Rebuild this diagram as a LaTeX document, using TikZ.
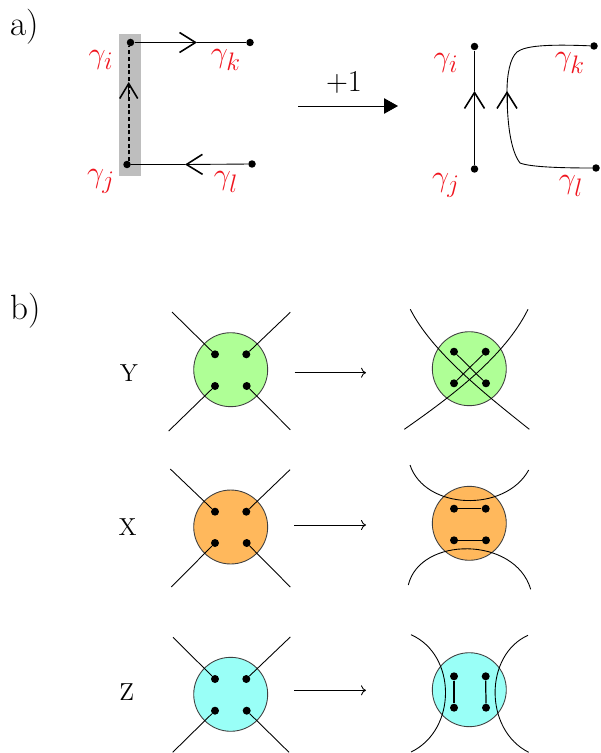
\documentclass[tikz,border=0pt]{standalone}
\usepackage{xcolor}
\definecolor{ptred}{RGB}{240,20,30}
\definecolor{ptgray}{RGB}{190,190,190}
\definecolor{ptgreen}{RGB}{175,255,150}
\definecolor{ptorange}{RGB}{255,184,92}
\definecolor{ptcyan}{RGB}{153,255,247}
\usetikzlibrary{arrows.meta}

\begin{document}
\begin{tikzpicture}[
    x=0.02cm, y=-0.02cm,
    dot/.style={circle, fill=black, inner sep=0pt, minimum size=0.15cm},
    dotb/.style={circle, fill=black, inner sep=0pt, minimum size=0.16cm},
    lab/.style={text=ptred, inner sep=0pt, font=\fontsize{19}{22}\selectfont},
    txt/.style={text=black, inner sep=0pt, font=\fontsize{20}{24}\selectfont},
    plus/.style={text=black, inner sep=0pt, font=\fontsize{17}{20}\selectfont},
    let/.style={text=black, inner sep=0pt, font=\fontsize{14}{17}\selectfont},
    blob/.style={circle, draw=black!75, line width=0.5pt, inner sep=0pt, minimum size=1.48cm},
    lin/.style={line width=0.5pt},
    chev/.style={line width=0.5pt, -{Straight Barb[length=0.32cm, width=0.4cm, line width=0.9pt]}},
    chevb/.style={line width=0.5pt, -{Straight Barb[length=0.3cm, width=0.36cm, line width=0.9pt]}},
    go/.style={line width=0.5pt, -{To[length=0.1cm, width=0.2cm]}}
  ]
    \useasboundingbox (0,0) rectangle (600,753);

    % Part a, left graph
    \node[txt] (parta) at (25,26.5) {a)};
    \node[rectangle, fill=ptgray, inner sep=0pt, minimum width=0.45cm, minimum height=2.84cm] (strip) at (129.75,105) {};
    \node[dot] (gi) at (130.5,42.5) {};
    \node[dot] (gk) at (250,42.5) {};
    \node[dot] (gj) at (127,164.5) {};
    \node[dot] (gl) at (252,164) {};
    \coordinate (cik) at (197,42.5);
    \coordinate (cjl) at (185,164.5);
    \coordinate (cji) at (128.7,82);
    \coordinate (dtop) at (128.7,46);
    \coordinate (dbot) at (128.7,161);
    \coordinate (cjs) at (128.7,100);
    \draw[chev] (gi) -- (cik);
    \draw[lin] (cik) -- (gk);
    \draw[chev] (gl) -- (cjl);
    \draw[lin] (cjl) -- (gj);
    \draw[line width=1.1pt, dash pattern=on 2.2pt off 1.6pt] (dbot) -- (dtop);
    \draw[chevb] (cjs) -- (cji);
    \node[lab] (li) at (101,60) {$\gamma_i$};
    \node[lab] (lk) at (226,60) {$\gamma_k$};
    \node[lab] (lj) at (101,181) {$\gamma_j$};
    \node[lab] (ll) at (226,182) {$\gamma_l$};

    % Part a, arrow
    \coordinate (pa) at (298,106);
    \coordinate (pb) at (398,106);
    \draw[line width=0.5pt, -{Triangle[length=0.28cm, width=0.31cm]}] (pa) -- (pb);
    \node[plus] (one) at (344,83) {$+1$};

    % Part a, right graph
    \node[dot] (hi) at (474.5,46.5) {};
    \node[dot] (hj) at (474.5,169) {};
    \node[dot] (hk) at (594,46) {};
    \node[dot] (hl) at (596,168) {};
    \coordinate (ci) at (474.5,91);
    \coordinate (ck) at (507,91);
    \coordinate (cs) at (507,107);
    \draw[chev] (hj) -- (ci);
    \draw[lin] (ci) -- (hi);
    \draw[lin] (hk) .. controls (545,44) and (525,46) .. (517,52) .. controls (510,58) and (507,75) .. (ck);
    \draw[lin] (ck) .. controls (507,120) and (510,150) .. (520,163) .. controls (530,167) and (560,168) .. (hl);
    \draw[chev] (cs) -- (ck);
    \node[lab] (mi) at (446,63) {$\gamma_i$};
    \node[lab] (mk) at (570,63) {$\gamma_k$};
    \node[lab] (mj) at (446,185) {$\gamma_j$};
    \node[lab] (ml) at (571,186) {$\gamma_l$};

    % Part b, row Y
    \node[txt] (partb) at (26,311) {b)};
    \node[let] (ly) at (129,372.7) {Y};
    \node[blob, fill=ptgreen] (ya) at (230.7,369.7) {};
    \node[dotb] (ya1) at (215,354.3) {};
    \node[dotb] (ya2) at (246.3,354.3) {};
    \node[dotb] (ya3) at (215,386) {};
    \node[dotb] (ya4) at (246.7,386) {};
    \coordinate (ye1) at (172,312);
    \coordinate (ye2) at (290.3,312.3);
    \coordinate (ye3) at (168.7,431);
    \coordinate (ye4) at (290.3,429.7);
    \draw[lin] (ya1) -- (ye1);
    \draw[lin] (ya2) -- (ye2);
    \draw[lin] (ya3) -- (ye3);
    \draw[lin] (ya4) -- (ye4);
    \coordinate (yp) at (294.7,372.7);
    \coordinate (yq) at (366,372.7);
    \draw[go] (yp) -- (yq);
    \node[blob, fill=ptgreen] (yb) at (469.3,368.7) {};
    \node[dotb] (yb1) at (454,351.7) {};
    \node[dotb] (yb2) at (485.7,351.7) {};
    \node[dotb] (yb3) at (454,383.3) {};
    \node[dotb] (yb4) at (486,383.3) {};
    \draw[lin] (yb1) -- (yb4);
    \draw[lin] (yb2) -- (yb3);
    \coordinate (yf1) at (410.3,309.3);
    \coordinate (yf2) at (528,309.3);
    \coordinate (yf3) at (404.3,429.3);
    \coordinate (yf4) at (529.3,429.3);
    \draw[lin] (yf1) .. controls (432,352) and (485,394) .. (yf4);
    \draw[lin] (yf2) .. controls (505,356) and (452,396) .. (yf3);

    % Part b, row X
    \node[let] (lx) at (127.7,527) {X};
    \node[blob, fill=ptorange] (xa) at (230.7,527) {};
    \node[dotb] (xa1) at (215,511.7) {};
    \node[dotb] (xa2) at (246.3,511.7) {};
    \node[dotb] (xa3) at (215,543) {};
    \node[dotb] (xa4) at (246.7,543) {};
    \coordinate (xe1) at (170.3,469);
    \coordinate (xe2) at (290,469.7);
    \coordinate (xe3) at (171.3,587);
    \coordinate (xe4) at (290.3,587);
    \draw[lin] (xa1) -- (xe1);
    \draw[lin] (xa2) -- (xe2);
    \draw[lin] (xa3) -- (xe3);
    \draw[lin] (xa4) -- (xe4);
    \coordinate (xp) at (294.3,525);
    \coordinate (xq) at (366,525);
    \draw[go] (xp) -- (xq);
    \node[blob, fill=ptorange] (xb) at (469.3,523.3) {};
    \node[dotb] (xb1) at (454,508.7) {};
    \node[dotb] (xb2) at (485.7,508.7) {};
    \node[dotb] (xb3) at (454,540.3) {};
    \node[dotb] (xb4) at (486,540.3) {};
    \draw[line width=0.7pt] (xb1) -- (xb2);
    \draw[line width=0.7pt] (xb3) -- (xb4);
    \coordinate (xf1) at (410,465);
    \coordinate (xf2) at (528.7,470);
    \coordinate (xf3) at (408.3,585);
    \coordinate (xf4) at (530.7,589.3);
    \draw[lin] (xf1) .. controls (425,510) and (505,513) .. (xf2);
    \draw[lin] (xf3) .. controls (420,536) and (515,536) .. (xf4);

    % Part b, row Z
    \node[let] (lz) at (126.7,692) {Z};
    \node[blob, fill=ptcyan] (za) at (230.7,694.3) {};
    \node[dotb] (za1) at (215,679) {};
    \node[dotb] (za2) at (246.3,679) {};
    \node[dotb] (za3) at (215,710.7) {};
    \node[dotb] (za4) at (246.7,710.7) {};
    \coordinate (ze1) at (173,637.3);
    \coordinate (ze2) at (290.3,637);
    \coordinate (ze3) at (172.7,752.3);
    \coordinate (ze4) at (289,752.3);
    \draw[lin] (za1) -- (ze1);
    \draw[lin] (za2) -- (ze2);
    \draw[lin] (za3) -- (ze3);
    \draw[lin] (za4) -- (ze4);
    \coordinate (zp) at (294.3,690.3);
    \coordinate (zq) at (366,690.3);
    \draw[go] (zp) -- (zq);
    \node[blob, fill=ptcyan] (zb) at (469.3,689.7) {};
    \node[dotb] (zb1) at (454,676.3) {};
    \node[dotb] (zb2) at (485.7,676.3) {};
    \node[dotb] (zb3) at (454,707.7) {};
    \node[dotb] (zb4) at (486,707.7) {};
    \draw[line width=0.7pt] (zb1) -- (zb3);
    \draw[line width=0.7pt] (zb2) -- (zb4);
    \coordinate (zf1) at (411,634.7);
    \coordinate (zf2) at (528,635.3);
    \coordinate (zf3) at (411,752);
    \coordinate (zf4) at (528.7,752.3);
    \draw[lin] (zf1) .. controls (457,655) and (457,730) .. (zf3);
    \draw[lin] (zf2) .. controls (484,655) and (484,730) .. (zf4);
  \end{tikzpicture}
\end{document}
